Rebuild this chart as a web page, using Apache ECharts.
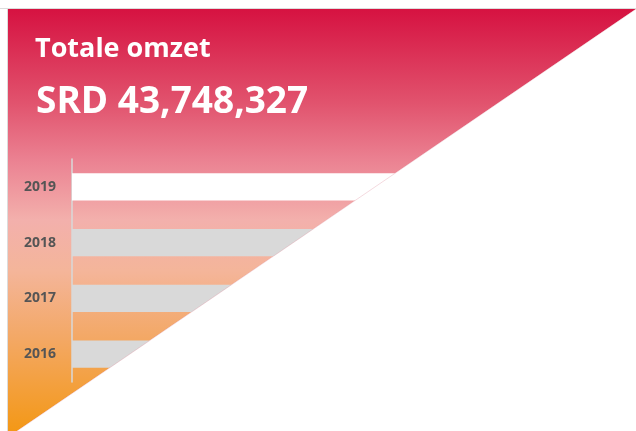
<!DOCTYPE html>
<html>
<head>
<meta charset="utf-8">
<script src="https://cdn.jsdelivr.net/npm/echarts@6/dist/echarts.min.js"></script>
<style>
  html, body { margin: 0; padding: 0; background: #fff; }
  #main { width: 636px; height: 431px; }
</style>
</head>
<body>
<div id="main"></div>
<script>
// years bottom -> top, values in millions SRD (bar ends are hidden by the triangle)
const years = ["2016", "2017", "2018", "2019"];
const omzet = [9.6, 10.4, 11.2, 12.5];
const barColors = ["#d9d9d9", "#d9d9d9", "#d9d9d9", "#ffffff"];
const titleText = "Totale omzet";
const totalText = "SRD 43,748,327";

const W = 636, H = 431;
const myChart = echarts.init(document.getElementById("main"));

const bg = new echarts.graphic.LinearGradient(0, 0, 0, 1, [
  { offset: 0, color: "#d61241" },
  { offset: 0.22, color: "#e1526d" },
  { offset: 0.36, color: "#eb8292" },
  { offset: 0.5, color: "#f3b0ac" },
  { offset: 0.62, color: "#f4b59a" },
  { offset: 0.78, color: "#f3a865" },
  { offset: 1, color: "#f39817" },
]);

const option = {
  animation: false,
  grid: { left: 72, right: 36, top: 159, bottom: 49 },
  xAxis: { type: "value", min: 0, max: 13, show: false },
  yAxis: {
    type: "category",
    data: years,
    axisTick: { show: false },
    axisLine: { lineStyle: { color: "#d9d9d9", width: 1.5 } },
    axisLabel: {
      margin: 16,
      color: "#555555",
      fontWeight: "bold",
      fontSize: 14,
      fontFamily: "Open Sans",
    },
  },
  series: [
    {
      type: "bar",
      barWidth: "49%",
      data: omzet.map((v, i) => ({ value: v, itemStyle: { color: barColors[i] } })),
      z: 2,
    },
  ],
  graphic: [
    // border lines
    { type: "line", z: -2, shape: { x1: 0, y1: 8.5, x2: W, y2: 8.5 }, style: { stroke: "#dcdcdc", lineWidth: 1 } },
    { type: "line", z: -2, shape: { x1: 7.5, y1: 8, x2: 7.5, y2: H }, style: { stroke: "#dcdcdc", lineWidth: 1 } },
    // gradient triangle
    {
      type: "polygon",
      z: -1,
      shape: { points: [[8, 9], [636, 9], [17, 431], [8, 431]] },
      style: { fill: bg },
    },
    // white cover cutting the bars
    {
      type: "polygon",
      z: 50,
      shape: { points: [[636, 9], [640, 9], [640, 435], [17, 435], [17, 431]] },
      style: { fill: "#ffffff" },
    },
    {
      type: "line",
      z: 51,
      shape: { x1: 636, y1: 9, x2: 17, y2: 431 },
      style: { stroke: "rgba(214,120,140,0.35)", lineWidth: 0.8 },
    },
    {
      type: "text",
      z: 60,
      x: 35,
      y: 49,
      style: {
        text: titleText,
        fill: "#ffffff",
        font: "bold 27px 'Open Sans'",
        verticalAlign: "middle",
      },
    },
    {
      type: "text",
      z: 60,
      x: 36,
      y: 102,
      style: {
        text: totalText,
        fill: "#ffffff",
        font: "bold 37px 'Open Sans'",
        verticalAlign: "middle",
      },
    },
  ],
};

option && myChart.setOption(option);
</script>
</body>
</html>
